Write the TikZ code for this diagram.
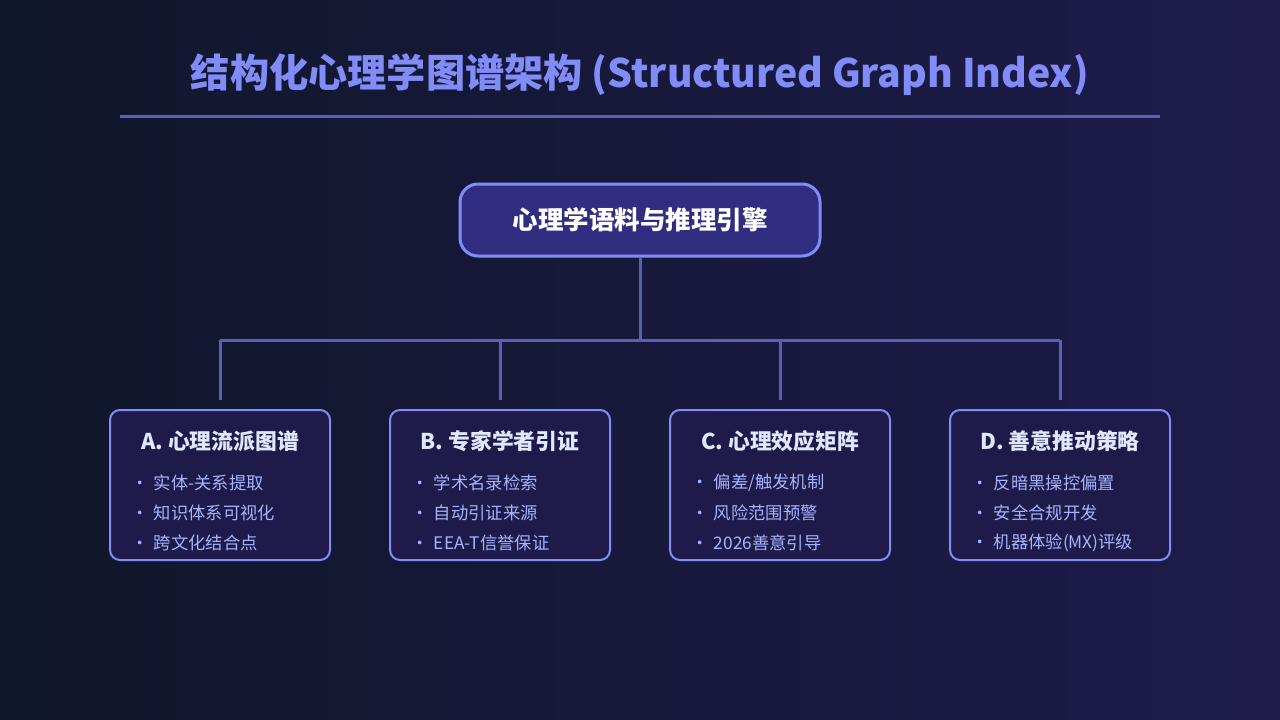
\documentclass[tikz,border=0pt]{standalone}
\usepackage{fontspec}
\setmainfont{Noto Sans CJK SC}
\begin{document}
\begin{tikzpicture}[x=1pt,y=-1pt,
  conn/.style={draw=lineC,line width=3pt},
  card/.style={draw=borderC,line width=2pt,fill=cardC,rounded corners=10pt,minimum width=220pt,minimum height=150pt},
  ctitle/.style={font=\fontsize{21.8}{26}\selectfont\bfseries,text=titleW},
  item/.style={font=\fontsize{17.3}{21}\selectfont,text=itemC,anchor=west}]
\definecolor{bgL}{HTML}{0F172A}\definecolor{bgR}{HTML}{1E1B4B}
\definecolor{titleC}{HTML}{818CF8}\definecolor{lineC}{HTML}{5B5FB8}
\definecolor{borderC}{HTML}{818CF8}\definecolor{cardC}{HTML}{1E1B4B}
\definecolor{rootC}{HTML}{312E81}\definecolor{titleW}{HTML}{E0E7FF}
\definecolor{itemC}{HTML}{A5B4FC}
\shade[left color=bgL,right color=bgR] (0,0) rectangle (1280,720);
\useasboundingbox (0,0) rectangle (1280,720);
\node[font=\fontsize{39.2}{46}\selectfont\bfseries,text=titleC] (title) at (640,75) {结构化心理学图谱架构 (Structured Graph Index)};
\draw[conn] (120,116) coordinate (l1) -- (1160,116) coordinate (l2);
\node[draw=borderC,line width=3pt,fill=rootC,rounded corners=18pt,minimum width=360pt,minimum height=72pt,font=\fontsize{25.5}{30}\selectfont\bfseries,text=white] (root) at (640,220) {心理学语料与推理引擎};
\coordinate (j) at (640,340);
\coordinate (ja) at (220,340);
\coordinate (jd) at (1060,340);
\draw[conn] (root.south) -- (j);
\draw[conn] (ja) -- (jd);
\foreach \n/\x/\t/\a/\b/\c in {a/220/A. 心理流派图谱/实体-关系提取/知识体系可视化/跨文化结合点,
  b/500/B. 专家学者引证/学术名录检索/自动引证来源/EEA-T信誉保证,
  c/780/C. 心理效应矩阵/{偏差/触发机制}/风险范围预警/2026善意引导,
  d/1060/D. 善意推动策略/反暗黑操控偏置/安全合规开发/机器体验(MX)评级}{
  \node[card] (\n) at (\x,485) {};
  \coordinate (\n top) at (\x,400);
  \coordinate (\n j) at (\x,340);
  \draw[conn] (\n j) -- (\n top);
  \node[ctitle] (\n t) at (\x,441) {\t};
  \node[item] (\n 1) at (\x-92,483) {•\hspace{5pt}\a};
  \node[item] (\n 2) at (\x-92,513) {•\hspace{5pt}\b};
  \node[item] (\n 3) at (\x-92,543) {•\hspace{5pt}\c};
}
\end{tikzpicture}
\end{document}
